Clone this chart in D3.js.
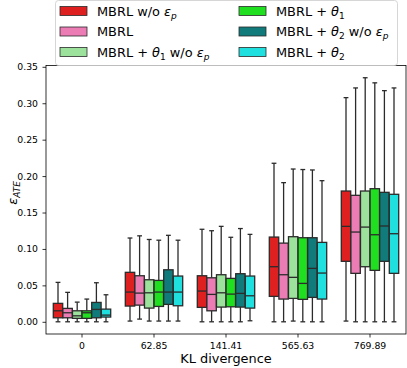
<!DOCTYPE html>
<html>
<head>
<meta charset="utf-8">
<script src="https://cdn.jsdelivr.net/npm/d3@7"></script>
<style>
  body { margin: 0; background: #fff; }
  svg { display: block; font-family: "DejaVu Sans", sans-serif; }
</style>
</head>
<body>
<svg id="chart" width="407" height="368"></svg>
<script>
// categories on the x axis
var categories = ["0", "62.85", "141.41", "565.63", "769.89"];
var seriesNames = ["MBRL w/o ep", "MBRL", "MBRL + t1 w/o ep", "MBRL + t1", "MBRL + t2 w/o ep", "MBRL + t2"];
var colors = ["#df2020", "#ec7cb4", "#9ce29c", "#20df20", "#117a7a", "#20dfdf"];

// box stats, one row per category, one column per series
var q1 = [
  [0.0055, 0.0055, 0.0047, 0.0047, 0.0055, 0.0065],
  [0.0216, 0.0229, 0.0188, 0.0211, 0.0239, 0.0220],
  [0.0198, 0.0151, 0.0202, 0.0206, 0.0202, 0.0188],
  [0.0349, 0.0312, 0.0321, 0.0308, 0.0335, 0.0312],
  [0.0830, 0.0665, 0.0756, 0.0706, 0.0830, 0.0665]
];
var medians = [
  [0.0151, 0.0124, 0.0082, 0.0124, 0.0170, 0.0092],
  [0.0408, 0.0394, 0.0398, 0.0408, 0.0408, 0.0408],
  [0.0422, 0.0376, 0.0398, 0.0380, 0.0390, 0.0357],
  [0.0756, 0.0646, 0.0610, 0.0527, 0.0733, 0.0669],
  [0.1310, 0.1232, 0.1300, 0.1195, 0.1315, 0.1209]
];
var q3 = [
  [0.0253, 0.0184, 0.0151, 0.0151, 0.0266, 0.0174],
  [0.0679, 0.0632, 0.0577, 0.0568, 0.0714, 0.0628],
  [0.0632, 0.0604, 0.0646, 0.0596, 0.0660, 0.0628],
  [0.1163, 0.1080, 0.1168, 0.1154, 0.1154, 0.1090],
  [0.1795, 0.1736, 0.1795, 0.1827, 0.1777, 0.1750]
];
var whiskerLow = [
  [0.0000, 0.0000, 0.0000, 0.0000, 0.0000, 0.0000],
  [0.0010, 0.0037, 0.0010, 0.0010, 0.0010, 0.0010],
  [0.0000, 0.0000, 0.0000, 0.0000, 0.0000, 0.0014],
  [0.0000, 0.0000, 0.0010, 0.0000, 0.0000, 0.0000],
  [0.0010, 0.0000, 0.0000, 0.0000, 0.0000, 0.0000]
];
var whiskerHigh = [
  [0.0541, 0.0404, 0.0270, 0.0312, 0.0536, 0.0371],
  [0.1150, 0.1180, 0.1130, 0.1120, 0.1187, 0.1120],
  [0.1270, 0.1250, 0.1310, 0.1160, 0.1280, 0.1200],
  [0.2176, 0.1910, 0.2097, 0.2090, 0.2084, 0.1937],
  [0.3077, 0.3210, 0.3350, 0.3280, 0.3173, 0.3210]
];
var yTicks = [0, 0.05, 0.10, 0.15, 0.20, 0.25, 0.30, 0.35];

// legend labels with math parts
var legendLabels = [
  [{t: "MBRL w/o "}, {t: "ε", i: 1}, {t: "p", i: 1, sub: 1}],
  [{t: "MBRL"}],
  [{t: "MBRL + "}, {t: "θ", i: 1}, {t: "1", sub: 1}, {t: " w/o "}, {t: "ε", i: 1}, {t: "p", i: 1, sub: 1}],
  [{t: "MBRL + "}, {t: "θ", i: 1}, {t: "1", sub: 1}],
  [{t: "MBRL + "}, {t: "θ", i: 1}, {t: "2", sub: 1}, {t: " w/o "}, {t: "ε", i: 1}, {t: "p", i: 1, sub: 1}],
  [{t: "MBRL + "}, {t: "θ", i: 1}, {t: "2", sub: 1}]
];

var lineColor = "#2b2b2b";
var margin = {left: 46, right: 1, top: 65.5, bottom: 34};
var W = 407, H = 368;

var svg = d3.select("#chart");

var x = d3.scaleBand().domain(categories).range([margin.left, W - margin.right]).paddingInner(0).paddingOuter(0);
var xs = d3.scaleBand().domain(d3.range(seriesNames.length)).range([0, x.bandwidth() * 0.8]);
var y = d3.scaleLinear().domain([-0.01675, 0.3518]).range([H - margin.bottom, margin.top]);

// boxes
var g = svg.append("g");
var rows = [];
categories.forEach(function(c, ci){
  seriesNames.forEach(function(s, si){
    rows.push({c: c, si: si, q1: q1[ci][si], med: medians[ci][si], q3: q3[ci][si], lo: whiskerLow[ci][si], hi: whiskerHigh[ci][si]});
  });
});

var boxes = g.selectAll("g.box").data(rows).enter().append("g").attr("class", "box")
  .attr("transform", function(d){
    return "translate(" + (x(d.c) + x.bandwidth() * 0.1 + xs(d.si)) + ",0)";
  });
var bw = xs.bandwidth() * 0.98;
var off = (xs.bandwidth() - bw) / 2;

boxes.append("line").attr("x1", xs.bandwidth() / 2).attr("x2", xs.bandwidth() / 2)
  .attr("y1", function(d){ return y(d.q3); }).attr("y2", function(d){ return y(d.hi); })
  .attr("stroke", lineColor).attr("stroke-width", 1.3);
boxes.append("line").attr("x1", xs.bandwidth() / 2).attr("x2", xs.bandwidth() / 2)
  .attr("y1", function(d){ return y(d.q1); }).attr("y2", function(d){ return y(d.lo); })
  .attr("stroke", lineColor).attr("stroke-width", 1.3);
[["hi"], ["lo"]].forEach(function(k){
  boxes.append("line").attr("x1", xs.bandwidth() / 4).attr("x2", xs.bandwidth() * 3 / 4)
    .attr("y1", function(d){ return y(d[k[0]]); }).attr("y2", function(d){ return y(d[k[0]]); })
    .attr("stroke", lineColor).attr("stroke-width", 1.3);
});
boxes.append("rect").attr("x", off).attr("width", bw)
  .attr("y", function(d){ return y(d.q3); })
  .attr("height", function(d){ return y(d.q1) - y(d.q3); })
  .attr("fill", function(d){ return colors[d.si]; })
  .attr("stroke", lineColor).attr("stroke-width", 1.3);
boxes.append("line").attr("x1", off).attr("x2", off + bw)
  .attr("y1", function(d){ return y(d.med); }).attr("y2", function(d){ return y(d.med); })
  .attr("stroke", lineColor).attr("stroke-width", 1.3);

// axes
var xAxis = svg.append("g").attr("transform", "translate(0," + (H - margin.bottom) + ")")
  .call(d3.axisBottom(x).tickSize(3.5).tickPadding(5));
var yAxis = svg.append("g").attr("transform", "translate(" + margin.left + ",0)")
  .call(d3.axisLeft(y).tickValues(yTicks).tickFormat(d3.format(".2f")).tickSize(3.5).tickPadding(4.5));
[xAxis, yAxis].forEach(function(a){
  a.select(".domain").remove();
  a.selectAll("line").attr("stroke", "#000").attr("stroke-width", 0.8);
  a.selectAll("text").attr("font-size", 9.3).attr("font-family", "DejaVu Sans").attr("fill", "#000");
});

svg.append("rect").attr("x", margin.left).attr("y", margin.top)
  .attr("width", W - margin.right - margin.left).attr("height", H - margin.bottom - margin.top)
  .attr("fill", "none").attr("stroke", "#000").attr("stroke-width", 0.8);

// axis labels
svg.append("text").attr("x", (margin.left + W - margin.right) / 2).attr("y", 363)
  .attr("text-anchor", "middle").attr("font-size", 12.9).text("KL divergence");
var yl = svg.append("text").attr("transform", "translate(17,193) rotate(-90)")
  .attr("text-anchor", "middle").attr("font-size", 12.9);
yl.append("tspan").attr("font-style", "italic").text("ε");
yl.append("tspan").attr("font-style", "italic").attr("font-size", 9).attr("dy", 3).text("ATE");

// legend
var leg = svg.append("g");
leg.append("rect").attr("x", 55.5).attr("y", 0.5).attr("width", 342).attr("height", 65)
  .attr("rx", 3).attr("fill", "#fff").attr("fill-opacity", 0.8).attr("stroke", "#cccccc").attr("stroke-width", 0.8);
var rowY = [11, 31.5, 52];
var colX = [60, 239];
seriesNames.forEach(function(s, i){
  var col = i < 3 ? 0 : 1, row = i % 3;
  leg.append("rect").attr("x", colX[col]).attr("y", rowY[row] - 4.5).attr("width", 27).attr("height", 9)
    .attr("fill", colors[i]).attr("stroke", lineColor).attr("stroke-width", 0.8);
  var t = leg.append("text").attr("x", colX[col] + 37).attr("y", rowY[row] + 4.5).attr("font-size", 12.9);
  var shifted = false;
  legendLabels[i].forEach(function(p){
    var ts = t.append("tspan").text(p.t);
    if (p.i) ts.attr("font-style", "italic");
    if (p.sub && !shifted) { ts.attr("font-size", 9).attr("dy", 3); shifted = true; }
    else if (p.sub) { ts.attr("font-size", 9); }
    else if (shifted) { ts.attr("dy", -3); shifted = false; }
  });
});
</script>
</body>
</html>
